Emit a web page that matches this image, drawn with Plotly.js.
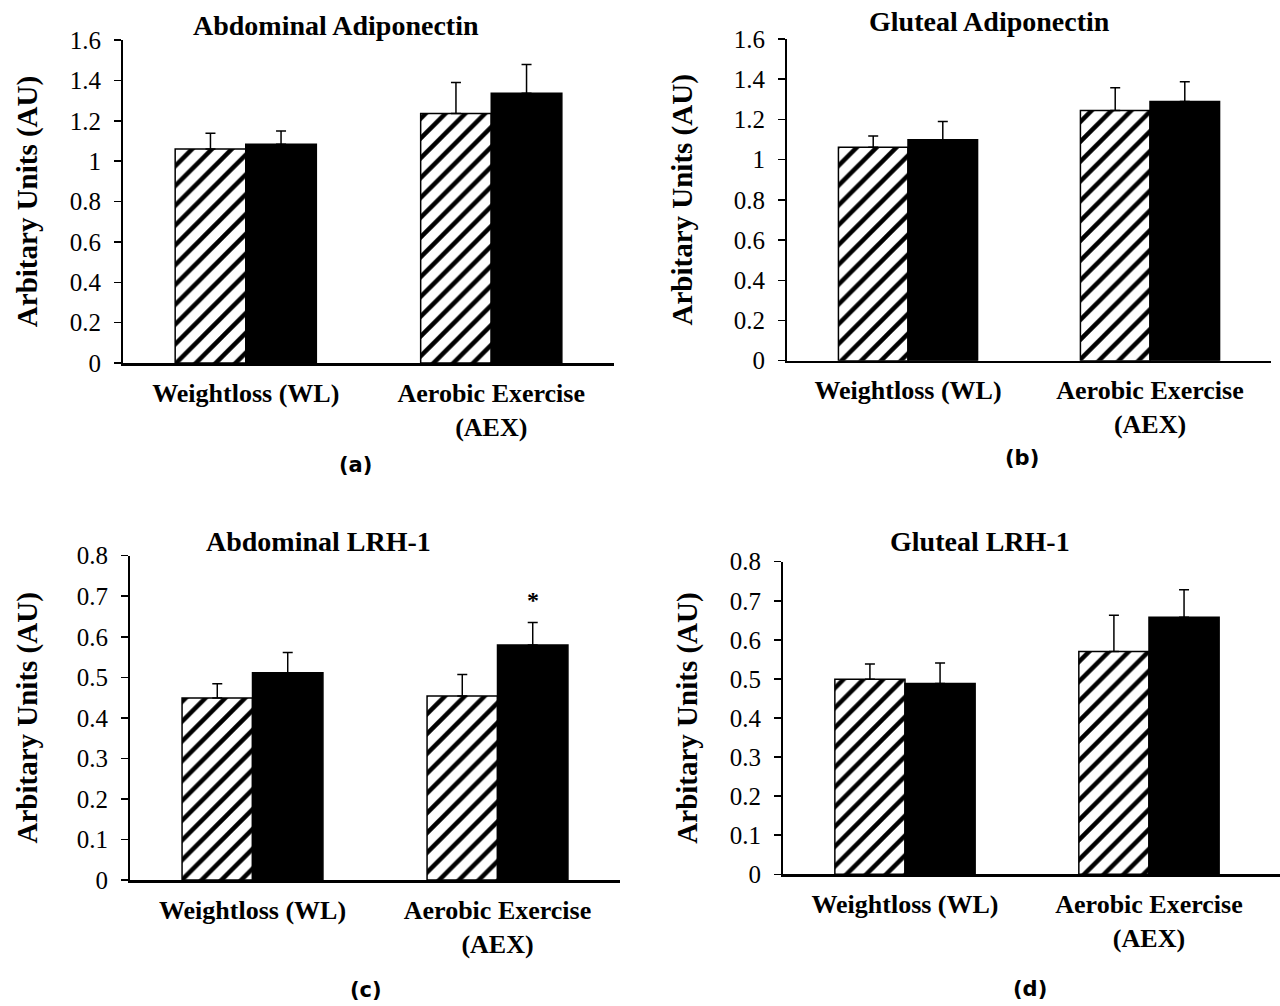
<!DOCTYPE html>
<html>
<head>
<meta charset="utf-8">
<script src="https://cdn.plot.ly/plotly-3.0.1.min.js"></script>
<style>html,body{margin:0;padding:0;background:#fff;}#chart{width:1280px;height:1006px;}</style>
</head>
<body>
<div id="chart"></div>
<script>
// ---- data ----
const categories = ['Weightloss (WL)', 'Aerobic Exercise<br>(AEX)'];
const seriesNames = ['Pre', 'Post'];

const panelTitles = ['Abdominal Adiponectin', 'Gluteal Adiponectin', 'Abdominal LRH-1', 'Gluteal LRH-1'];
const panelLetters = ['(a)', '(b)', '(c)', '(d)'];
const yAxisTitle = 'Arbitary Units (AU)';

const abdAdipoPre = [1.060, 1.236];
const abdAdipoPreErr = [0.078, 0.154];
const abdAdipoPost = [1.084, 1.336];
const abdAdipoPostErr = [0.065, 0.143];

const glutAdipoPre = [1.062, 1.244];
const glutAdipoPreErr = [0.055, 0.113];
const glutAdipoPost = [1.099, 1.289];
const glutAdipoPostErr = [0.091, 0.098];

const abdLrhPre = [0.449, 0.454];
const abdLrhPreErr = [0.035, 0.053];
const abdLrhPost = [0.511, 0.580];
const abdLrhPostErr = [0.050, 0.055];

const glutLrhPre = [0.499, 0.570];
const glutLrhPreErr = [0.039, 0.093];
const glutLrhPost = [0.488, 0.658];
const glutLrhPostErr = [0.053, 0.070];

const significance = '*';   // Abdominal LRH-1, AEX, post

// ---- build ----
const serif = 'Liberation Serif, Times New Roman, serif';
const panels = [
  {pre: abdAdipoPre, preErr: abdAdipoPreErr, post: abdAdipoPost, postErr: abdAdipoPostErr},
  {pre: glutAdipoPre, preErr: glutAdipoPreErr, post: glutAdipoPost, postErr: glutAdipoPostErr},
  {pre: abdLrhPre, preErr: abdLrhPreErr, post: abdLrhPost, postErr: abdLrhPostErr},
  {pre: glutLrhPre, preErr: glutLrhPreErr, post: glutLrhPost, postErr: glutLrhPostErr}
];

const traces = [];
panels.forEach((p, i) => {
  const xa = i === 0 ? 'x' : 'x' + (i + 1);
  const ya = i === 0 ? 'y' : 'y' + (i + 1);
  const common = {type: 'bar', x: categories, xaxis: xa, yaxis: ya, showlegend: false, hoverinfo: 'skip'};
  traces.push(Object.assign({}, common, {
    name: seriesNames[0], y: p.pre,
    marker: {color: '#ffffff', line: {color: '#000', width: 1.5},
      pattern: {shape: '/', fgcolor: '#000', bgcolor: '#fff', size: 14, solidity: 0.32}},
    error_y: {type: 'data', array: p.preErr, symmetric: false, arrayminus: p.preErr.map(() => 0),
      color: '#000', thickness: 1.5, width: 5}
  }));
  traces.push(Object.assign({}, common, {
    name: seriesNames[1], y: p.post,
    marker: {color: '#000000', line: {color: '#000', width: 1.5}},
    error_y: {type: 'data', array: p.postErr, symmetric: false, arrayminus: p.postErr.map(() => 0),
      color: '#000', thickness: 1.5, width: 5}
  }));
});

// domains (paper fractions)
const W = 1280, H = 1006;
const geo = [
  {l: 123, r: 614, t: 40, b: 363, xr: [-0.5, 1.5], yr: [0, 1.6], dt: 0.2, so: 24},
  {l: 787, r: 1271, t: 39, b: 360.7, xr: [-0.5, 1.5], yr: [0, 1.6], dt: 0.2, so: 33},
  {l: 130, r: 620, t: 555.7, b: 880, xr: [-0.5, 1.5], yr: [0, 0.8], dt: 0.1, so: 31},
  {l: 783, r: 1280, t: 561.7, b: 874.3, xr: [-0.5, 1.537], yr: [0, 0.8], dt: 0.1, so: 24}
];

const layout = {
  width: W, height: H,
  margin: {l: 0, r: 0, t: 0, b: 0},
  paper_bgcolor: '#fff', plot_bgcolor: 'rgba(0,0,0,0)',
  barmode: 'group', bargap: 0.425, bargroupgap: 0,
  font: {family: serif, color: '#000'},
  annotations: []
};

geo.forEach((g, i) => {
  const sfx = i === 0 ? '' : String(i + 1);
  layout['xaxis' + sfx] = {
    domain: [g.l / W, g.r / W], anchor: 'y' + sfx, range: g.xr, type: 'category',
    showline: true, linecolor: '#000', linewidth: 2.5, ticks: '', showgrid: false, zeroline: false,
    tickfont: {family: serif, size: 26, color: '#000', weight: 'bold'},
    ticklabelstandoff: 5, fixedrange: true
  };
  layout['yaxis' + sfx] = {
    domain: [1 - g.b / H, 1 - g.t / H], anchor: 'x' + sfx, range: g.yr, dtick: g.dt, tick0: 0,
    showline: true, linecolor: '#000', linewidth: 2, ticks: 'outside', ticklen: 7, tickwidth: 1.5,
    tickcolor: '#000', showgrid: false, zeroline: false,
    tickfont: {family: serif, size: 25, color: '#000'},
    ticklabelstandoff: 8,
    title: {text: yAxisTitle, font: {family: serif, size: 29, color: '#000', weight: 'bold'}, standoff: g.so},
    fixedrange: true
  };
});

const titlePos = [[336, 25], [989, 22], [318, 541], [980, 541]];
const letterPos = [[355, 465], [1022, 458], [366, 990], [1030, 989]];
panelTitles.forEach((t, i) => {
  layout.annotations.push({text: t, xref: 'paper', yref: 'paper', x: titlePos[i][0] / W, y: 1 - titlePos[i][1] / H,
    xanchor: 'center', yanchor: 'middle', showarrow: false,
    font: {family: serif, size: 28, color: '#000', weight: 'bold'}});
  layout.annotations.push({text: panelLetters[i], xref: 'paper', yref: 'paper', x: letterPos[i][0] / W, y: 1 - letterPos[i][1] / H,
    xanchor: 'center', yanchor: 'middle', showarrow: false,
    font: {family: 'DejaVu Sans, Liberation Sans, sans-serif', size: 21, color: '#000', weight: 'bold'}});
});

// significance marker above AEX post bar in Abdominal LRH-1
layout.annotations.push({text: significance, xref: 'x3', yref: 'y3', x: categories[1],
  y: abdLrhPost[1] + abdLrhPostErr[1], xshift: 35, yshift: 8, yanchor: 'bottom', showarrow: false,
  font: {family: serif, size: 24, color: '#000', weight: 'bold'}});

Plotly.newPlot('chart', traces, layout, {staticPlot: true, displayModeBar: false});
</script>
</body>
</html>
